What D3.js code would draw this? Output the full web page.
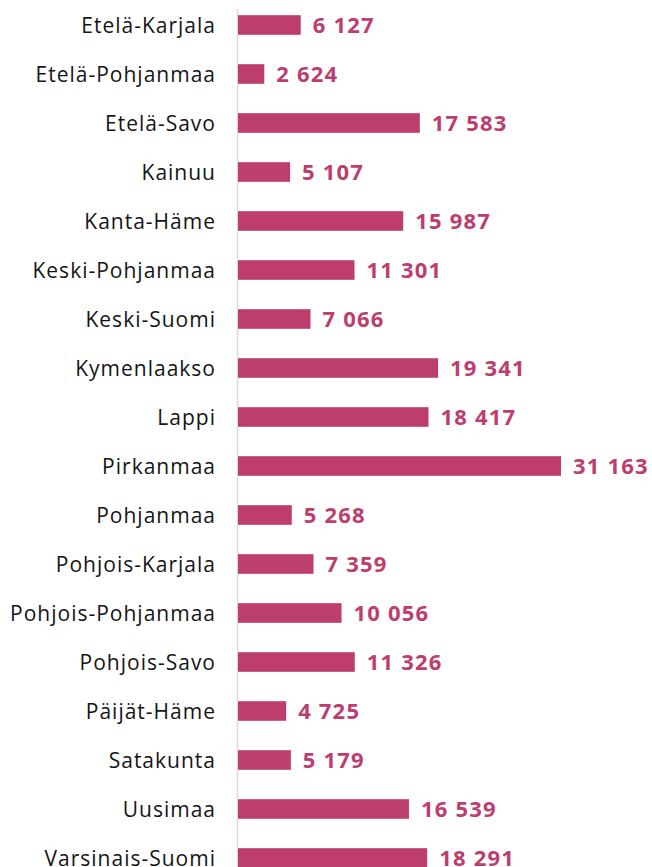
<!DOCTYPE html>
<html>
<head>
<meta charset="utf-8">
<script src="https://cdn.jsdelivr.net/npm/d3@7"></script>
<style>
  body { margin: 0; background: #fff; }
  svg { display: block; font-family: "Open Sans", sans-serif; }
</style>
</head>
<body>
<div id="chart"></div>
<script>
// regions and values
const regions = ['Etelä-Karjala','Etelä-Pohjanmaa','Etelä-Savo','Kainuu','Kanta-Häme',
  'Keski-Pohjanmaa','Keski-Suomi','Kymenlaakso','Lappi','Pirkanmaa','Pohjanmaa',
  'Pohjois-Karjala','Pohjois-Pohjanmaa','Pohjois-Savo','Päijät-Häme','Satakunta',
  'Uusimaa','Varsinais-Suomi'];
const values = [6127, 2624, 17583, 5107, 15987, 11301, 7066, 19341, 18417, 31163,
  5268, 7359, 10056, 11326, 4725, 5179, 16539, 18291];

const width = 652, height = 867;
const x0 = 237, step = 49, y0 = 0.5;
const fmt = v => d3.format(',')(v).replace(/,/g, ' ');

const svg = d3.select('#chart').append('svg')
  .attr('width', width).attr('height', height);

const scaleX = d3.scaleLinear([0, 31163], [x0, 561]);
const scaleY = d3.scaleBand(regions, [y0, y0 + step * regions.length])
  .paddingInner(0.6).paddingOuter(0.3);

// vertical axis line
svg.append('line')
  .attr('x1', x0 + 0.5).attr('x2', x0 + 0.5)
  .attr('y1', 9).attr('y2', height)
  .attr('stroke', '#d9d9d9').attr('stroke-width', 1.5);

const rows = svg.selectAll('g.row')
  .data(regions.map((r, i) => [r, values[i]]))
  .join('g').classed('row', true);

rows.append('rect')
  .attr('x', x0 + 1)
  .attr('y', d => scaleY(d[0]))
  .attr('width', d => scaleX(d[1]) - x0 - 1)
  .attr('height', scaleY.bandwidth())
  .attr('fill', '#bc3d6e');

rows.append('text')
  .attr('x', 216)
  .attr('y', d => scaleY(d[0]) + scaleY.bandwidth() / 2)
  .attr('dy', '0.36em')
  .attr('text-anchor', 'end')
  .attr('font-size', 21)
  .attr('letter-spacing', 1)
  .attr('fill', '#151515')
  .text(d => d[0]);

rows.append('text')
  .attr('x', d => scaleX(d[1]) + 12)
  .attr('y', d => scaleY(d[0]) + scaleY.bandwidth() / 2)
  .attr('dy', '0.36em')
  .attr('font-size', 22)
  .attr('font-weight', 'bold')
  .attr('letter-spacing', 1.2)
  .attr('fill', '#bc3d6e')
  .text(d => fmt(d[1]));
</script>
</body>
</html>
